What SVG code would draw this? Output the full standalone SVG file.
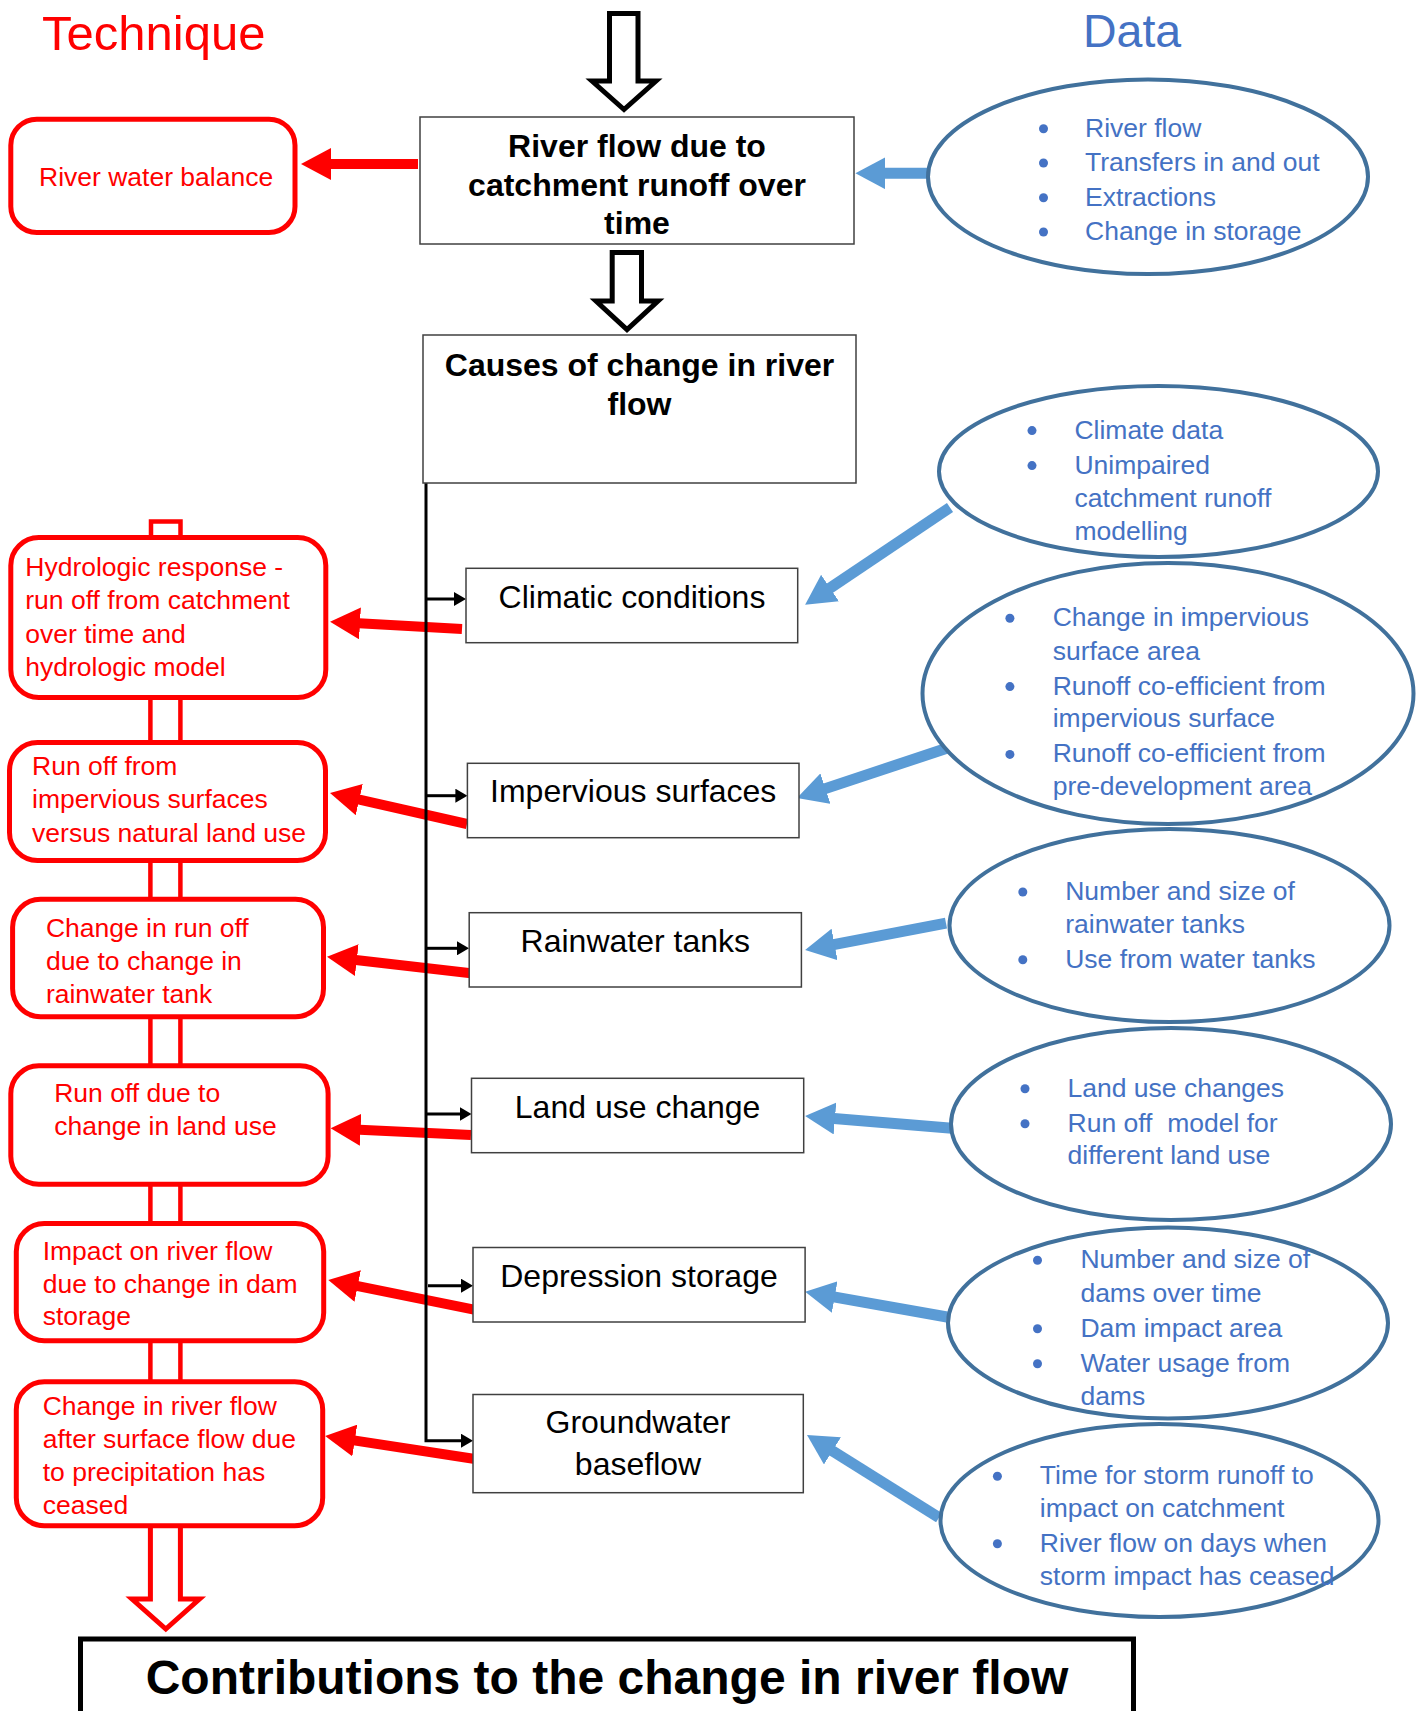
<svg xmlns="http://www.w3.org/2000/svg" width="1423" height="1711" viewBox="0 0 1423 1711">
<style>
text{font-family:"Liberation Sans",Arial,sans-serif}
.title{font-size:49px}
.rbox{fill:#fff;stroke:#ff0000;stroke-width:5}
.rt{font-size:26.5px;fill:#ff0000}
.cbox{fill:#fff;stroke:#404040;stroke-width:1.5}
.ct{font-size:32px;fill:#000;text-anchor:middle}
.bold{font-weight:bold}
.ell{fill:#fff;stroke:#41719C;stroke-width:4}
.et{font-size:26.5px;fill:#4472C4}
.bul{fill:#4472C4}
.ra{stroke:#ff0000;stroke-width:10;fill:none;marker-end:url(#mr)}
.ba{stroke:#5B9BD5;stroke-width:11;fill:none;marker-end:url(#mb)}
.ka{stroke:#000;stroke-width:3;fill:none;marker-end:url(#mk)}
.hollow{fill:#fff;stroke:#000;stroke-width:5;stroke-linejoin:miter}
.rline{stroke:#ff0000;stroke-width:4.5;fill:none}
</style>
<defs>
<marker id="mr" viewBox="0 0 30 32" markerWidth="30" markerHeight="32" refX="1" refY="16" orient="auto" markerUnits="userSpaceOnUse"><path d="M0,0 L30,16 L0,32 z" fill="#ff0000"/></marker>
<marker id="mb" viewBox="0 0 30 32" markerWidth="30" markerHeight="32" refX="1" refY="16" orient="auto" markerUnits="userSpaceOnUse"><path d="M0,0 L30,16 L0,32 z" fill="#5B9BD5"/></marker>
<marker id="mk" viewBox="0 0 12 14" markerWidth="12" markerHeight="14" refX="1" refY="7" orient="auto" markerUnits="userSpaceOnUse"><path d="M0,0 L12,7 L0,14 z" fill="#000"/></marker>
</defs>
<rect width="1423" height="1711" fill="#fff"/>

<text class="title" x="42" y="50" fill="#ff0000">Technique</text>
<text class="title" x="1083" y="47" fill="#4472C4" style="font-size:46.5px">Data</text>

<!-- connectors -->
<g id="connectors">
  <!-- hollow black flow arrows -->
  <polygon class="hollow" points="609.5,13.5 638,13.5 638,81 656,81 624,109.5 592,81 609.5,81"/>
  <polygon class="hollow" points="612.2,252.5 641.5,252.5 641.5,301 658,301 627,329.5 596,301 612.2,301"/>
  <!-- red technique links -->
  <line class="rline" x1="150.4" y1="699" x2="150.4" y2="741"/>
  <line class="rline" x1="180.4" y1="699" x2="180.4" y2="741"/>
  <line class="rline" x1="150.4" y1="860" x2="150.4" y2="899"/>
  <line class="rline" x1="180.4" y1="860" x2="180.4" y2="899"/>
  <line class="rline" x1="150.4" y1="1017" x2="150.4" y2="1066"/>
  <line class="rline" x1="180.4" y1="1017" x2="180.4" y2="1066"/>
  <line class="rline" x1="150.4" y1="1184" x2="150.4" y2="1224"/>
  <line class="rline" x1="180.4" y1="1184" x2="180.4" y2="1224"/>
  <line class="rline" x1="150.4" y1="1341" x2="150.4" y2="1382"/>
  <line class="rline" x1="180.4" y1="1341" x2="180.4" y2="1382"/>
  <polyline points="150.4,1526 150.4,1599 132,1599 165.8,1629 199.5,1599 180.4,1599 180.4,1526" fill="#fff" stroke="#ff0000" stroke-width="5"/>
  <!-- red arrows -->
  <line class="ra" x1="418" y1="164" x2="330" y2="164"/>
  <line class="ra" x1="462" y1="629" x2="359" y2="623.3"/>
  <line class="ra" x1="467" y1="824" x2="358.3" y2="799.4"/>
  <line class="ra" x1="471" y1="973.3" x2="355.8" y2="960"/>
  <line class="ra" x1="471" y1="1135" x2="359.6" y2="1129.7"/>
  <line class="ra" x1="474" y1="1309.7" x2="356.7" y2="1285.8"/>
  <line class="ra" x1="475" y1="1459" x2="353.8" y2="1440.4"/>
  <!-- black distribution lines -->
  <path class="ka" d="M426,483 V1440.7 H462"/>
  <line class="ka" x1="426" y1="599" x2="455" y2="599"/>
  <line class="ka" x1="426" y1="795.7" x2="456.4" y2="795.7"/>
  <line class="ka" x1="426" y1="948.3" x2="458" y2="948.3"/>
  <line class="ka" x1="426" y1="1114" x2="460.5" y2="1114"/>
  <line class="ka" x1="428" y1="1285.7" x2="462" y2="1285.7"/>
  <!-- blue data arrows -->
  <line class="ba" x1="928" y1="173.3" x2="884.4" y2="173.3"/>
  <line class="ba" x1="950" y1="507.5" x2="829.2" y2="588.6"/>
  <line class="ba" x1="946" y1="748.5" x2="824.5" y2="788.9"/>
  <line class="ba" x1="946" y1="923.2" x2="833.6" y2="944.6"/>
  <line class="ba" x1="955" y1="1128.4" x2="834" y2="1118.4"/>
  <line class="ba" x1="947" y1="1317" x2="833.7" y2="1296.8"/>
  <line class="ba" x1="939" y1="1517.6" x2="831.6" y2="1450.4"/>
</g>

<!-- technique nodes -->
<g id="t-balance"><rect class="rbox" x="10.8" y="119.2" width="284.2" height="113.3" rx="26"/>
<text class="rt" x="39" y="185.7">River water balance</text></g>

<g id="t-hydrologic"><rect class="rbox" x="151" y="521.5" width="29.5" height="16" rx="0" style="stroke-width:4.5"/>
<rect class="rbox" x="10.8" y="537.5" width="315" height="160" rx="28"/>
<text class="rt"><tspan x="25.3" y="576">Hydrologic response -</tspan><tspan x="25.3" y="609.3">run off from catchment</tspan><tspan x="25.3" y="642.7">over time and</tspan><tspan x="25.3" y="676">hydrologic model</tspan></text></g>

<g id="t-impervious"><rect class="rbox" x="9.5" y="742.5" width="316" height="118" rx="28"/>
<text class="rt"><tspan x="32.1" y="775">Run off from</tspan><tspan x="32.1" y="808.3">impervious surfaces</tspan><tspan x="32.1" y="841.7">versus natural land use</tspan></text></g>

<g id="t-tank"><rect class="rbox" x="12.6" y="899.2" width="310.9" height="117.6" rx="28"/>
<text class="rt"><tspan x="45.9" y="936.7">Change in run off</tspan><tspan x="45.9" y="970">due to change in</tspan><tspan x="45.9" y="1003.3">rainwater tank</tspan></text></g>

<g id="t-landuse"><rect class="rbox" x="10.8" y="1065.8" width="317.3" height="118.4" rx="28"/>
<text class="rt"><tspan x="54.2" y="1101.7">Run off due to</tspan><tspan x="54.2" y="1135">change in land use</tspan></text></g>

<g id="t-dam"><rect class="rbox" x="16.3" y="1223.5" width="307.4" height="117.3" rx="28"/>
<text class="rt"><tspan x="42.7" y="1260">Impact on river flow</tspan><tspan x="42.7" y="1292.7">due to change in dam</tspan><tspan x="42.7" y="1325">storage</tspan></text></g>

<g id="t-baseflow"><rect class="rbox" x="16.3" y="1381.8" width="306.4" height="144" rx="28"/>
<text class="rt"><tspan x="42.7" y="1415">Change in river flow</tspan><tspan x="42.7" y="1448.3">after surface flow due</tspan><tspan x="42.7" y="1480.7">to precipitation has</tspan><tspan x="42.7" y="1514">ceased</tspan></text></g>

<!-- central nodes -->
<g id="n-riverflow"><rect class="cbox" x="420" y="117" width="434" height="127"/>
<text class="ct bold"><tspan x="637" y="156.7">River flow due to</tspan><tspan x="637" y="195.7">catchment runoff over</tspan><tspan x="637" y="234.3">time</tspan></text></g>

<g id="n-causes"><rect class="cbox" x="423" y="335" width="433" height="148"/>
<text class="ct bold"><tspan x="639.5" y="376">Causes of change in river</tspan><tspan x="639.5" y="415">flow</tspan></text></g>

<g id="n-climatic"><rect class="cbox" x="466" y="568.3" width="331.7" height="74.4"/>
<text class="ct" x="632" y="608.3">Climatic conditions</text></g>

<g id="n-impervious"><rect class="cbox" x="467.4" y="763.3" width="331.6" height="74.4"/>
<text class="ct" x="633.2" y="802">Impervious surfaces</text></g>

<g id="n-rainwater"><rect class="cbox" x="469.2" y="912.7" width="332.2" height="74.3"/>
<text class="ct" x="635.3" y="951.7">Rainwater tanks</text></g>

<g id="n-landuse"><rect class="cbox" x="471.5" y="1078.3" width="332.2" height="74.4"/>
<text class="ct" x="637.6" y="1117.7">Land use change</text></g>

<g id="n-depression"><rect class="cbox" x="473" y="1247.5" width="332.1" height="74.5"/>
<text class="ct" x="639" y="1286.7">Depression storage</text></g>

<g id="n-groundwater"><rect class="cbox" x="473" y="1394.5" width="330.3" height="98.2"/>
<text class="ct"><tspan x="638" y="1433.3">Groundwater</tspan><tspan x="638" y="1475">baseflow</tspan></text></g>

<g id="n-contributions"><rect x="80.5" y="1639" width="1053" height="110" fill="#fff" stroke="#000" stroke-width="5"/>
<text class="bold" x="607" y="1694" style="font-size:48px;text-anchor:middle">Contributions to the change in river flow</text></g>

<!-- data nodes -->
<g id="d-riverflow"><ellipse class="ell" cx="1148" cy="176.7" rx="220" ry="97.3"/>
<circle class="bul" cx="1043.5" cy="128.7" r="4.5"/><circle class="bul" cx="1043.5" cy="163" r="4.5"/><circle class="bul" cx="1043.5" cy="197.7" r="4.5"/><circle class="bul" cx="1043.5" cy="232" r="4.5"/>
<text class="et"><tspan x="1085" y="136.7">River flow</tspan><tspan x="1085" y="171">Transfers in and out</tspan><tspan x="1085" y="205.7">Extractions</tspan><tspan x="1085" y="240">Change in storage</tspan></text></g>

<g id="d-climate"><ellipse class="ell" cx="1158.5" cy="471.5" rx="219.5" ry="85.5"/>
<circle class="bul" cx="1032" cy="430.6" r="4.5"/><circle class="bul" cx="1032" cy="465.6" r="4.5"/>
<text class="et"><tspan x="1074.4" y="438.6">Climate data</tspan><tspan x="1074.4" y="473.6">Unimpaired</tspan><tspan x="1074.4" y="507">catchment runoff</tspan><tspan x="1074.4" y="540.3">modelling</tspan></text></g>

<g id="d-impervious"><ellipse class="ell" cx="1168" cy="693.5" rx="245.5" ry="130.5"/>
<circle class="bul" cx="1009.9" cy="618.2" r="4.5"/><circle class="bul" cx="1009.9" cy="686.6" r="4.5"/><circle class="bul" cx="1009.9" cy="754.4" r="4.5"/>
<text class="et"><tspan x="1052.7" y="626.2">Change in impervious</tspan><tspan x="1052.7" y="659.6">surface area</tspan><tspan x="1052.7" y="694.6">Runoff co-efficient from</tspan><tspan x="1052.7" y="727.3">impervious surface</tspan><tspan x="1052.7" y="762.4">Runoff co-efficient from</tspan><tspan x="1052.7" y="794.6">pre-development area</tspan></text></g>

<g id="d-tanks"><ellipse class="ell" cx="1169.5" cy="925.5" rx="220" ry="96.5"/>
<circle class="bul" cx="1022.8" cy="892" r="4.5"/><circle class="bul" cx="1022.8" cy="959.7" r="4.5"/>
<text class="et"><tspan x="1065.2" y="900">Number and size of</tspan><tspan x="1065.2" y="933.3">rainwater tanks</tspan><tspan x="1065.2" y="967.7">Use from water tanks</tspan></text></g>

<g id="d-landuse"><ellipse class="ell" cx="1171" cy="1124" rx="220" ry="96"/>
<circle class="bul" cx="1025" cy="1088.7" r="4.5"/><circle class="bul" cx="1025" cy="1123.7" r="4.5"/>
<text class="et"><tspan x="1067.5" y="1096.7">Land use changes</tspan><tspan x="1067.5" y="1131.7">Run off&#160; model for</tspan><tspan x="1067.5" y="1164.3">different land use</tspan></text></g>

<g id="d-dams"><ellipse class="ell" cx="1168" cy="1323" rx="220" ry="95.5"/>
<circle class="bul" cx="1037.5" cy="1260.3" r="4.5"/><circle class="bul" cx="1037.5" cy="1328.7" r="4.5"/><circle class="bul" cx="1037.5" cy="1363.7" r="4.5"/>
<text class="et"><tspan x="1080.4" y="1268.3">Number and size of</tspan><tspan x="1080.4" y="1301.7">dams over time</tspan><tspan x="1080.4" y="1336.7">Dam impact area</tspan><tspan x="1080.4" y="1371.7">Water usage from</tspan><tspan x="1080.4" y="1405">dams</tspan></text></g>

<g id="d-storm"><ellipse class="ell" cx="1159.5" cy="1520.5" rx="219" ry="96.5"/>
<circle class="bul" cx="997.4" cy="1476.3" r="4.5"/><circle class="bul" cx="997.4" cy="1543.7" r="4.5"/>
<text class="et"><tspan x="1039.8" y="1484.3">Time for storm runoff to</tspan><tspan x="1039.8" y="1516.7">impact on catchment</tspan><tspan x="1039.8" y="1551.7">River flow on days when</tspan><tspan x="1039.8" y="1585">storm impact has ceased</tspan></text></g>
</svg>
